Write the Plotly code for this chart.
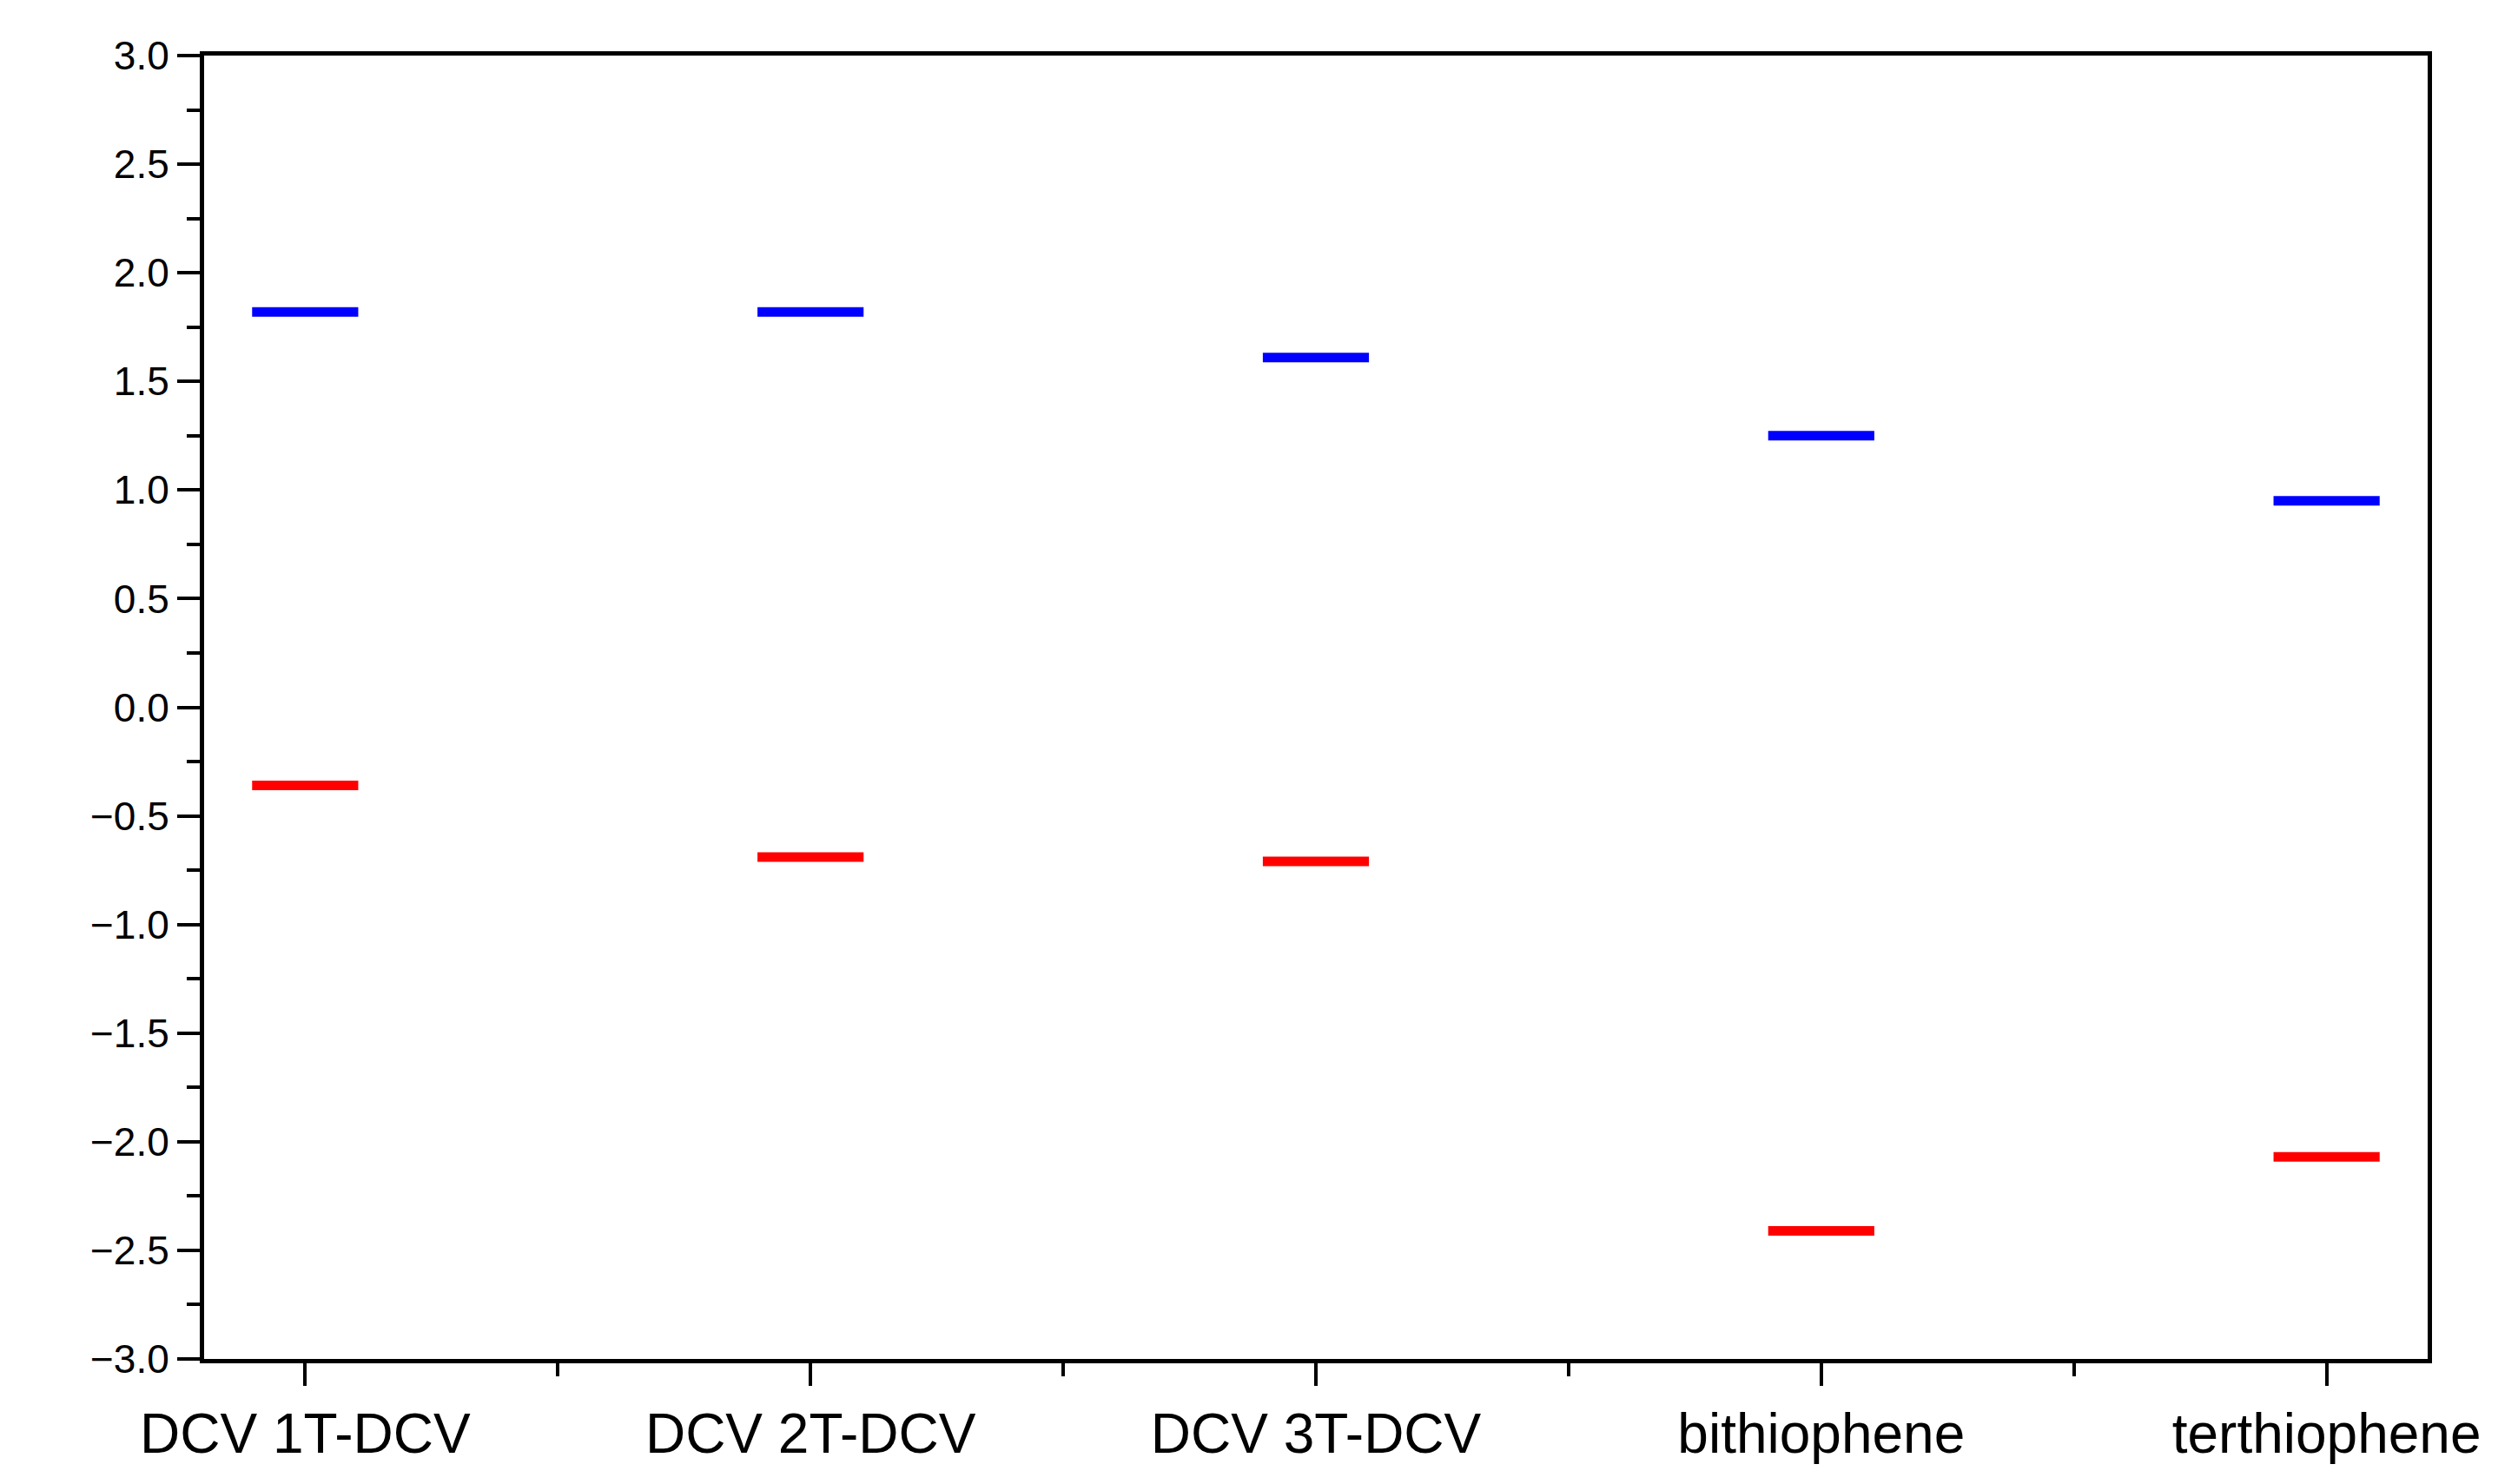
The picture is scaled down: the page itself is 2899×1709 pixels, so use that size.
import plotly.graph_objects as go

categories = ["DCV 1T-DCV", "DCV 2T-DCV", "DCV 3T-DCV", "bithiophene", "terthiophene"]
upper = [1.82, 1.82, 1.61, 1.25, 0.95]
lower = [-0.36, -0.69, -0.71, -2.41, -2.07]
half_w = 0.105

def seg(vals):
    xs, ys = [], []
    for i, v in enumerate(vals):
        xs += [i - half_w, i + half_w, None]
        ys += [v, v, None]
    return xs, ys

fig = go.Figure()
for vals, col in [(upper, "#0000ff"), (lower, "#ff0000")]:
    xs, ys = seg(vals)
    fig.add_trace(go.Scatter(x=xs, y=ys, mode="lines", line=dict(color=col, width=11),
                             showlegend=False, hoverinfo="skip"))

axis_common = dict(showline=True, linecolor="black", linewidth=5, mirror=True,
                   showgrid=False, zeroline=False, ticks="outside", tickwidth=4,
                   tickcolor="black", ticklen=26)
fig.update_xaxes(range=[-0.2, 4.2], tickvals=list(range(5)), ticktext=categories,
                 tickfont=dict(size=64, family="Liberation Sans", color="black"),
                 minor=dict(tickvals=[0.5, 1.5, 2.5, 3.5], ticks="outside", ticklen=15,
                            tickwidth=4, tickcolor="black"),
                 **axis_common)
fig.update_yaxes(range=[-3, 3], dtick=0.5, tickformat=".1f",
                 tickfont=dict(size=46, family="Liberation Sans", color="black"),
                 minor=dict(dtick=0.25, ticks="outside", ticklen=15, tickwidth=4,
                            tickcolor="black"),
                 **axis_common)
fig.update_layout(width=2899, height=1709, plot_bgcolor="white", paper_bgcolor="white",
                  margin=dict(l=227, r=112, t=56, b=152))
fig.write_html("out.html")
